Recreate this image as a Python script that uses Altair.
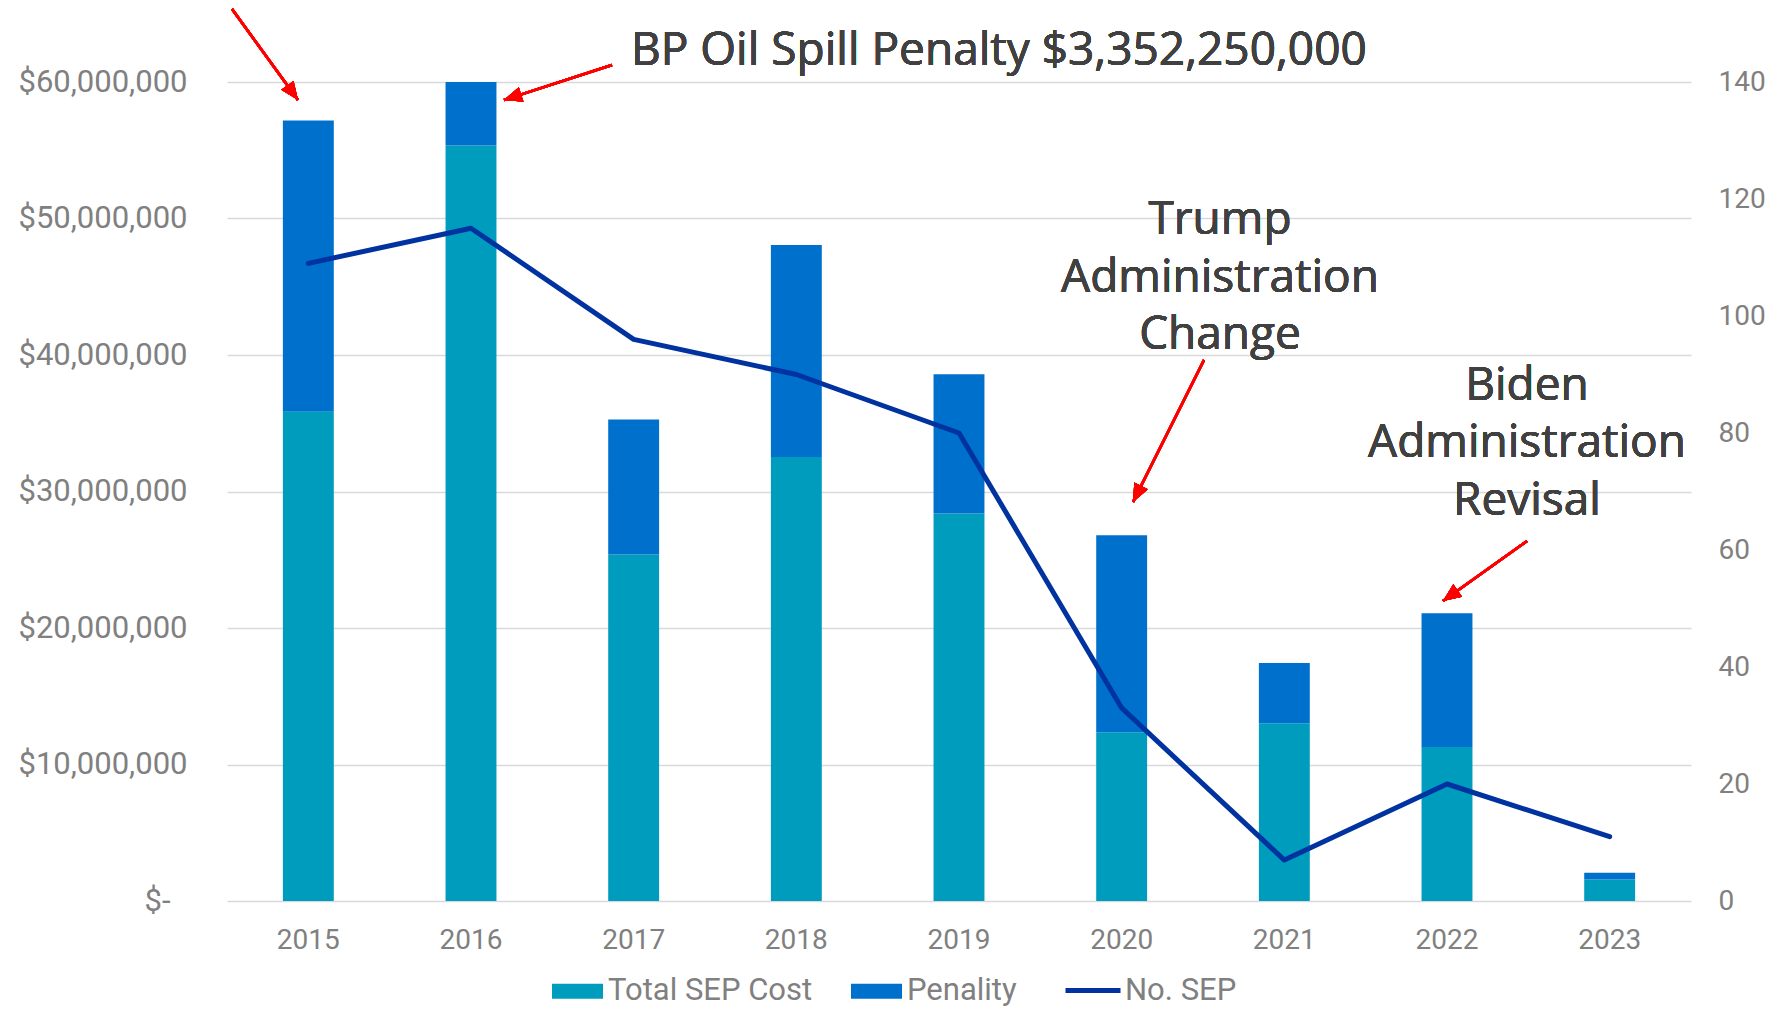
import altair as alt
import pandas as pd

# ---- data ----
years = ["2015", "2016", "2017", "2018", "2019", "2020", "2021", "2022", "2023"]
total_sep_cost = [35850000, 55350000, 25390000, 32530000, 28380000, 12370000, 13030000, 11290000, 1580000]
penality = [21330000, 3352250000, 9880000, 15520000, 10210000, 14430000, 4400000, 9790000, 490000]
no_sep = [109, 115, 96, 90, 80, 33, 7, 20, 11]
series_names = ["Total SEP Cost", "Penality"]
line_name = "No. SEP"
left_ticks = [0, 10000000, 20000000, 30000000, 40000000, 50000000, 60000000]
right_ticks = [0, 20, 40, 60, 80, 100, 120, 140]

# ---- styles ----
TEAL = "#009CBE"
BLUE = "#0070CD"
NAVY = "#0033A0"
GRID = "#D9D9D9"
LABEL = "#808080"
NOTE = "#404040"
AXFONT = "Roboto"
NOTEFONT = "Open Sans"

rows = []
for i, y in enumerate(years):
    rows.append({"year": y, "series": series_names[0], "value": total_sep_cost[i], "ord": 0})
    rows.append({"year": y, "series": series_names[1], "value": penality[i], "ord": 1})
bar_df = pd.DataFrame(rows)
line_df = pd.DataFrame({"year": years, "count": no_sep, "name": [line_name] * len(years)})

x_enc = alt.X(
    "year:N", sort=years, title=None,
    scale=alt.Scale(paddingInner=0.687, paddingOuter=0.3435),
    axis=alt.Axis(labelAngle=0, labelPadding=25, ticks=False, tickSize=0, domain=False,
                  labelFont=AXFONT, labelFontSize=28, labelColor=LABEL),
)

bars = alt.Chart(bar_df).mark_bar(clip=True).encode(
    x=x_enc,
    y=alt.Y(
        "value:Q", stack="zero", title=None,
        scale=alt.Scale(domain=[0, 60000000], nice=False),
        axis=alt.Axis(values=left_ticks, grid=True, gridColor=GRID, gridWidth=1.6,
                      ticks=False, tickSize=0, domain=False,
                      labelPadding={"condition": {"test": "datum.value == 0", "value": 57}, "value": 40},
                      labelFont=AXFONT, labelFontSize=31, labelColor=LABEL,
                      labelExpr="datum.value == 0 ? '$-' : '$' + format(datum.value, ',')"),
    ),
    color=alt.Color(
        "series:N",
        scale=alt.Scale(domain=series_names, range=[TEAL, BLUE]),
        legend=alt.Legend(title=None, orient="none", legendX=325, legendY=883.5, direction="horizontal",
                          symbolType="M-1,-0.294H1V0.294H-1Z", symbolSize=2601, symbolStrokeWidth=0,
                          symbolOpacity=1, labelFont=AXFONT, labelFontSize=31, labelColor=LABEL,
                          labelOffset=5, columnPadding=38, labelLimit=500),
    ),
    order=alt.Order("ord:Q"),
)

line = alt.Chart(line_df).mark_line(strokeWidth=5, strokeCap="round", strokeJoin="round").encode(
    x=alt.X("year:N", sort=years),
    y=alt.Y(
        "count:Q", title=None,
        scale=alt.Scale(domain=[0, 140], nice=False),
        axis=alt.Axis(orient="right", values=right_ticks, grid=False, ticks=False, tickSize=0,
                      domain=False, labelPadding=27, labelFont=AXFONT, labelFontSize=28,
                      labelColor=LABEL),
    ),
    stroke=alt.Stroke(
        "name:N",
        scale=alt.Scale(domain=[line_name], range=[NAVY]),
        legend=alt.Legend(title=None, orient="none", legendX=836, legendY=878.5, direction="horizontal",
                          symbolType="stroke", symbolSize=3025, symbolStrokeWidth=5,
                          labelFont=AXFONT, labelFontSize=31, labelColor=LABEL,
                          labelOffset=2, labelLimit=500),
    ),
)

# ---- annotations (pixel positions relative to the plot area) ----
notes = [
    ("BP Oil Spill Penalty $3,352,250,000", 404, -17, "left"),
    ("Trump\nAdministration\nChange", 993, 152, "center"),
    ("Biden\nAdministration\nRevisal", 1300, 317.5, "center"),
]
arrows = [
    (5, -73, 71, 18, 144),
    (385, -17, 277, 18, 252),
    (977, 278, 906, 420, 206.6),
    (1300, 459, 1216, 519, 234.5),
]

anno_layers = []
for txt, px, py, al in notes:
    anno_layers.append(
        alt.Chart(line_df).mark_text(
            text=txt, lineBreak="\n", lineHeight=57.5, align=al, baseline="alphabetic",
            font=NOTEFONT, fontSize=46, color=NOTE,
        ).encode(x=alt.value(px), y=alt.value(py))
    )
for x1, y1, x2, y2, ang in arrows:
    anno_layers.append(
        alt.Chart(line_df).mark_rule(color="#FF0000", strokeWidth=2.5).encode(
            x=alt.value(x1), y=alt.value(y1), x2=alt.value(x2), y2=alt.value(y2)
        )
    )
    anno_layers.append(
        alt.Chart(line_df).mark_point(
            shape="M0,0L-0.42,1L0.42,1Z", filled=True, color="#FF0000", opacity=1,
            size=1300, angle=ang, strokeWidth=0,
        ).encode(x=alt.value(x2), y=alt.value(y2))
    )

chart = alt.layer(bars, line, *anno_layers).resolve_scale(y="independent").properties(
    width=1464, height=819,
    autosize=alt.AutoSizeParams(type="none"),
    padding={"left": 219, "top": 74, "right": 78, "bottom": 109},
).configure_view(strokeWidth=0)

chart.save("out.html", embed_options={"renderer": "svg", "actions": False})
